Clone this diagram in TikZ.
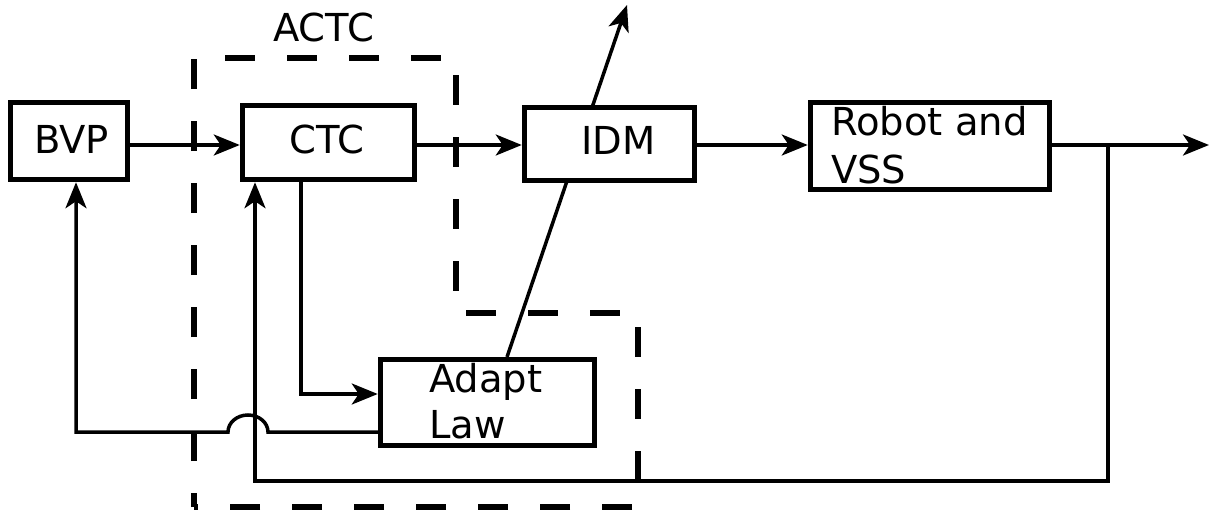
\documentclass[tikz,border=0pt]{standalone}
\usepackage{fontspec}
\setmainfont{DejaVu Sans}
\usetikzlibrary{arrows.meta}
\begin{document}
\begin{tikzpicture}[x=1pt,y=-1pt,
  blk/.style={draw, line width=5.5pt, fill=white, inner sep=0pt, outer sep=2.75pt},
  conn/.style={line width=3.5pt},
  arr/.style={conn, -{Stealth[length=26pt,width=21pt,inset=7pt]}},
  lbl/.style={font=\fontsize{38.5}{46}\selectfont, inner sep=0pt, anchor=base west},
  framebox/.style={line width=6pt, dash pattern=on 30pt off 32pt, dash phase=16pt}]
\useasboundingbox (0,0) rectangle (1210,514);

% dashed ACTC frame
\draw[framebox] (194,507) -- (194,58) -- (456,58) -- (456,313) -- (638,313) -- (638,507) -- cycle;
\node[lbl] (actc) at (273,41) {ACTC};

% diagonal adaptation line (behind IDM)
\coordinate (d0) at (507,357);
\coordinate (d1) at (627,5);
\draw[arr] (d0) -- (d1);

% blocks
\node[blk, minimum width=117pt, minimum height=77pt] (bvp) at (69,141) {};
\node[blk, minimum width=172pt, minimum height=74pt] (ctc) at (328.5,142.5) {};
\node[blk, minimum width=170pt, minimum height=73pt] (idm) at (609.5,144) {};
\node[blk, minimum width=239pt, minimum height=87pt] (robot) at (930,146) {};
\node[blk, minimum width=214pt, minimum height=86pt] (adapt) at (487.5,402.5) {};

% labels
\node[lbl] (tbvp) at (34,153) {BVP};
\node[lbl] (tctc) at (289,153) {CTC};
\node[lbl] (tidm) at (581,154) {IDM};
\node[lbl] (trob1) at (831,135) {Robot and};
\node[lbl] (trob2) at (831,183) {VSS};
\node[lbl] (tad1) at (429,392) {Adapt};
\node[lbl] (tad2) at (429,438) {Law};

% forward path
\coordinate (row) at (0,145);
\draw[arr] (bvp.east |- row) -- (ctc.west |- row);
\draw[arr] (ctc.east |- row) -- (idm.west |- row);
\draw[arr] (idm.east |- row) -- (robot.west |- row);
\coordinate (out) at (1209,145);
\draw[arr] (robot.east |- row) -- (out);

% feedback to CTC
\coordinate (br) at (1108,145);
\coordinate (fb) at (255,481);
\draw[arr] (br) |- (fb) -- (fb |- ctc.south);

% CTC to adapt law
\coordinate (a1) at (301,394);
\draw[arr] (ctc.south -| a1) |- (adapt.west |- a1);

% adapt law to BVP with jump
\coordinate (a2) at (268,432);
\coordinate (a3) at (76,432);
\draw[arr] (adapt.west |- a2) -- (a2)
  arc[start angle=0, end angle=180, x radius=20pt, y radius=17pt]
  -- (a3) -- (a3 |- bvp.south);
\end{tikzpicture}
\end{document}
